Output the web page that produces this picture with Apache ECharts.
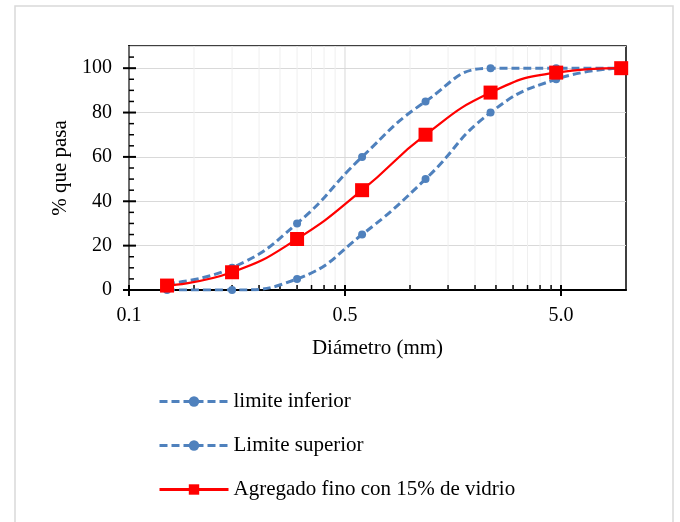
<!DOCTYPE html>
<html>
<head>
<meta charset="utf-8">
<title>Curva granulometrica</title>
<script src="https://cdn.jsdelivr.net/npm/echarts@6/dist/echarts.min.js"></script>
<style>
    html, body { margin: 0; padding: 0; background: #fff; }
    #chart { width: 680px; height: 522px; }
</style>
</head>
<body>
<div id="chart"></div>
<script>
// abertura de tamices (mm)
const sieveSizes = [0.075, 0.15, 0.3, 0.6, 1.18, 2.36, 4.75, 9.5]
const limiteInferior = [0, 0, 5, 25, 50, 80, 95, 100]
const limiteSuperior = [3, 10, 30, 60, 85, 100, 100, 100]
const agregadoFino = [2, 8, 23, 45, 70, 89, 98, 100]

// eje x logaritmico (min 0.05 se muestra como "0.1")
const xMajorTicks = [0.05, 0.5, 5]
const xMajorLabels = ['0.1', '0.5', '5.0']
const xMinorTicks = [0.1, 0.15, 0.2, 0.25, 0.3, 0.35, 0.4, 0.45, 1, 1.5, 2, 2.5, 3, 3.5, 4, 4.5]
const yMajorTicks = [0, 20, 40, 60, 80, 100]
const yMinorTicks = [5, 10, 15, 25, 30, 35, 45, 50, 55, 65, 70, 75, 85, 90, 95, 105]

const FONT = 'Liberation Serif, Times New Roman, serif'
const BLUE = '#4F81BD'
const RED = '#FF0000'

function toPairs (xs, ys) {
    let out = []
    for (let i = 0; i < xs.length; i++) {
        out.push([xs[i], ys[i]])
    }
    return out
}

// lineas de division y marcas del eje x
function renderXDecor (params, api) {
    const rect = params.coordSys
    const p = api.coord([api.value(0), 0])
    const bottom = rect.y + rect.height
    const major = api.value(1) === 1
    let children = [{
        type: 'line',
        shape: { x1: p[0], y1: rect.y, x2: p[0], y2: bottom },
        style: { stroke: major ? '#d9d9d9' : '#efefef', lineWidth: 1 }
    }, {
        type: 'line',
        shape: { x1: p[0], y1: bottom - 5, x2: p[0], y2: major ? bottom + 6 : bottom },
        style: { stroke: '#000', lineWidth: major ? 2 : 1.5 }
    }]
    if (major) {
        children.push({
            type: 'text',
            x: p[0],
            y: bottom + 16,
            style: {
                text: xMajorLabels[xMajorTicks.indexOf(api.value(0))],
                fill: '#000',
                fontSize: 20,
                fontFamily: FONT,
                align: 'center',
                verticalAlign: 'top'
            }
        })
    }
    return { type: 'group', children: children }
}

// marcas del eje y
function renderYDecor (params, api) {
    const rect = params.coordSys
    const p = api.coord([xMajorTicks[0], api.value(1)])
    const major = api.value(2) === 1
    return {
        type: 'line',
        shape: { x1: major ? rect.x - 6 : rect.x, y1: p[1], x2: rect.x + (major ? 7 : 5), y2: p[1] },
        style: { stroke: '#000', lineWidth: major ? 2 : 1.5 }
    }
}

let xDecorData = []
xMajorTicks.forEach(v => xDecorData.push([v, 1]))
xMinorTicks.forEach(v => xDecorData.push([v, 0]))
let yDecorData = []
yMajorTicks.forEach(v => yDecorData.push([xMajorTicks[0], v, 1]))
yMinorTicks.forEach(v => yDecorData.push([xMajorTicks[0], v, 0]))

const chart = echarts.init(document.getElementById('chart'), null, { renderer: 'canvas' })

const option = {
    animation: false,
    backgroundColor: '#fff',
    textStyle: { fontFamily: FONT, color: '#000' },
    graphic: [{
        type: 'rect',
        silent: true,
        shape: { x: 15, y: 6, width: 658, height: 530 },
        style: { fill: 'none', stroke: '#d9d9d9', lineWidth: 1.5 }
    }],
    grid: {
        left: 129,
        top: 46,
        right: 54,
        bottom: 232,
        show: true,
        borderColor: '#000',
        borderWidth: 1.5,
        containLabel: false
    },
    legend: {
        orient: 'vertical',
        left: 153,
        top: 386,
        itemWidth: 69,
        itemHeight: 13,
        itemGap: 23,
        data: ['limite inferior', 'Limite superior', 'Agregado fino con 15% de vidrio'],
        lineStyle: { width: 3 },
        textStyle: { fontFamily: FONT, fontSize: 21, color: '#000', lineHeight: 21 }
    },
    xAxis: {
        type: 'log',
        logBase: 10,
        min: 0.05,
        max: 10,
        name: 'Diámetro (mm)',
        nameLocation: 'middle',
        nameGap: 48,
        nameTextStyle: { fontFamily: FONT, fontSize: 21, color: '#000', verticalAlign: 'top' },
        axisLine: { show: true, lineStyle: { color: '#000', width: 2 } },
        axisTick: { show: false },
        axisLabel: { show: false },
        splitLine: { show: false },
        minorTick: { show: false },
        minorSplitLine: { show: false }
    },
    yAxis: {
        type: 'value',
        min: 0,
        max: 110,
        interval: 20,
        name: '% que pasa',
        nameLocation: 'middle',
        nameGap: 56,
        nameTextStyle: { fontFamily: FONT, fontSize: 21, color: '#000' },
        axisLine: { show: true, lineStyle: { color: '#000', width: 2 } },
        axisTick: { show: false },
        axisLabel: {
            margin: 17,
            fontFamily: FONT,
            fontSize: 20,
            color: '#000',
            formatter: function (v) { return v > 100 ? '' : String(v) }
        },
        splitLine: { show: true, lineStyle: { color: '#d9d9d9', width: 1 } }
    },
    series: [
        {
            type: 'custom',
            name: 'xdecor',
            silent: true,
            clip: false,
            z: 1,
            renderItem: renderXDecor,
            encode: { x: 0, y: 1 },
            data: xDecorData
        },
        {
            type: 'custom',
            name: 'ydecor',
            silent: true,
            clip: false,
            z: 4,
            renderItem: renderYDecor,
            encode: { x: 0, y: 1 },
            data: yDecorData
        },
        {
            name: 'limite inferior',
            type: 'line',
            z: 3,
            smooth: true,
            symbol: 'circle',
            symbolSize: 8,
            color: BLUE,
            lineStyle: { color: BLUE, width: 3, type: [8, 4] },
            itemStyle: { color: BLUE },
            data: toPairs(sieveSizes, limiteInferior)
        },
        {
            name: 'Limite superior',
            type: 'line',
            z: 3,
            smooth: true,
            symbol: 'circle',
            symbolSize: 8,
            color: BLUE,
            lineStyle: { color: BLUE, width: 3, type: [8, 4] },
            itemStyle: { color: BLUE },
            data: toPairs(sieveSizes, limiteSuperior)
        },
        {
            name: 'Agregado fino con 15% de vidrio',
            type: 'line',
            z: 3,
            smooth: true,
            symbol: 'rect',
            symbolSize: 14,
            color: RED,
            lineStyle: { color: RED, width: 2.25 },
            itemStyle: { color: RED },
            data: toPairs(sieveSizes, agregadoFino)
        }
    ]
}

chart.setOption(option)
</script>
</body>
</html>
